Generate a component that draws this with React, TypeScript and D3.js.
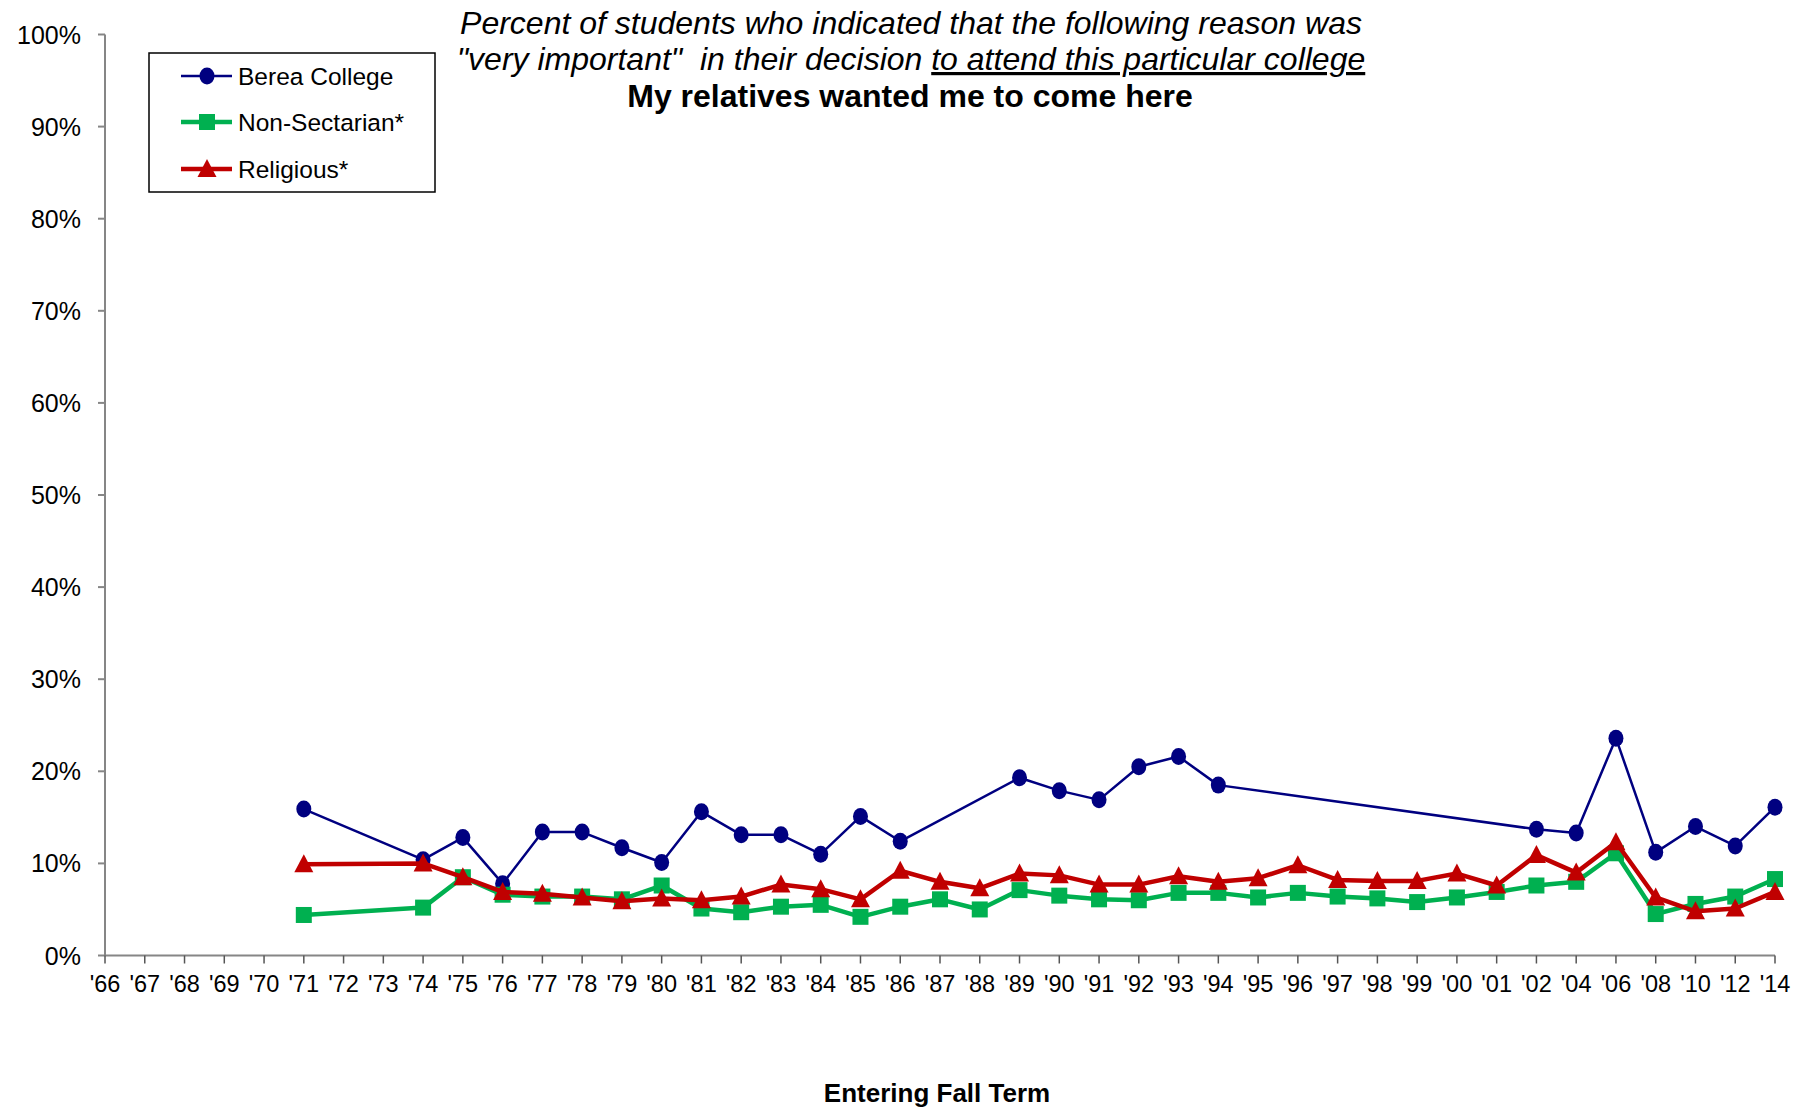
import React from "react";
import * as d3 from "d3";

const years = [
  "'66", "'67", "'68", "'69", "'70", "'71", "'72", "'73", "'74", "'75", "'76", "'77", "'78", "'79",
  "'80", "'81", "'82", "'83", "'84", "'85", "'86", "'87", "'88", "'89", "'90", "'91", "'92", "'93",
  "'94", "'95", "'96", "'97", "'98", "'99", "'00", "'01", "'02", "'04", "'06", "'08", "'10", "'12", "'14",
];

const berea: (number | null)[] = [
  null, null, null, null, null, 15.9, null, null, 10.4, 12.8, 7.8, 13.4, 13.4, 11.7,
  10.1, 15.6, 13.1, 13.1, 11.0, 15.1, 12.4, null, null, 19.3, 17.9, 16.9, 20.5, 21.6,
  18.5, null, null, null, null, null, null, null, 13.7, 13.3, 23.6, 11.2, 14.0, 11.9, 16.1,
];

const nonSectarian: (number | null)[] = [
  null, null, null, null, null, 4.4, null, null, 5.2, 8.5, 6.6, 6.4, 6.4, 6.1,
  7.6, 5.1, 4.7, 5.3, 5.5, 4.2, 5.3, 6.1, 5.0, 7.1, 6.5, 6.1, 6.0, 6.8,
  6.8, 6.3, 6.8, 6.4, 6.2, 5.8, 6.3, 6.9, 7.6, 8.0, 11.1, 4.5, 5.6, 6.4, 8.3,
];

const religious: (number | null)[] = [
  null, null, null, null, null, 9.9, null, null, 10.0, 8.5, 6.9, 6.7, 6.3, 5.9,
  6.2, 6.0, 6.4, 7.7, 7.2, 6.1, 9.2, 8.0, 7.3, 8.9, 8.7, 7.7, 7.7, 8.6,
  8.0, 8.4, 9.8, 8.2, 8.1, 8.1, 8.9, 7.6, 10.9, 9.0, 12.3, 6.3, 4.8, 5.1, 6.9,
];

const yTicks = [0, 10, 20, 30, 40, 50, 60, 70, 80, 90, 100];

const seriesNames = ["Berea College", "Non-Sectarian*", "Religious*"];

const W = 1812;
const H = 1108;
const FONT = "'Liberation Sans', Arial, sans-serif";

type Shape = "circle" | "square" | "triangle";

function Marker({ shape, x, y, color }: { shape: Shape; x: number; y: number; color: string }) {
  if (shape === "circle") return <ellipse cx={x} cy={y} rx={7.5} ry={8.5} fill={color} />;
  if (shape === "square") return <rect x={x - 8} y={y - 8} width={16} height={16} fill={color} />;
  const s = 9;
  return (
    <path
      d={`M${x},${y - s - 1} L${x + s + 0.5},${y + s - 1} L${x - s - 0.5},${y + s - 1} Z`}
      fill={color}
    />
  );
}

export default function App() {
  const x = d3.scalePoint<string>().domain(years).range([105, 1775]).padding(0);
  const y = d3.scaleLinear().domain([0, 100]).range([955.5, 34.5]);

  const series = [
    { name: seriesNames[0], values: berea, color: "#000080", width: 2.5, shape: "circle" as Shape },
    { name: seriesNames[1], values: nonSectarian, color: "#00B050", width: 4.5, shape: "square" as Shape },
    { name: seriesNames[2], values: religious, color: "#C00000", width: 4.5, shape: "triangle" as Shape },
  ];

  const line = d3
    .line<{ year: string; v: number }>()
    .x((d) => x(d.year) as number)
    .y((d) => y(d.v));

  const legendX = 149;
  const legendY = 53;
  const rowYs = [76, 122, 169];

  return (
    <div style={{ position: "absolute", left: 0, top: 0 }}>
      <svg width={W} height={H} style={{ display: "block", background: "#fff" }} fontFamily={FONT}>
        {/* Title */}
        <text x={911} y={34} textAnchor="middle" fontSize={32} fontStyle="italic" fill="#000">
          Percent of students who indicated that the following reason was
        </text>
        <text x={911} y={70} textAnchor="middle" fontSize={32} fontStyle="italic" fill="#000" xmlSpace="preserve">
          <tspan>{'"very important"  in their decision '}</tspan>
          <tspan textDecoration="underline">to attend this particular college</tspan>
        </text>
        <text x={910} y={107} textAnchor="middle" fontSize={32} fontWeight="bold" fill="#000">
          My relatives wanted me to come here
        </text>

        {/* Y axis */}
        <line x1={105} x2={105} y1={y(100)} y2={y(0)} stroke="#868686" strokeWidth={2} />
        {yTicks.map((t) => (
          <g key={t}>
            <line x1={98} x2={105} y1={y(t)} y2={y(t)} stroke="#868686" strokeWidth={2} />
            <text x={81} y={y(t)} dy="0.36em" textAnchor="end" fontSize={25} fill="#000">
              {t}%
            </text>
          </g>
        ))}

        {/* X axis */}
        <line x1={105} x2={1775} y1={y(0)} y2={y(0)} stroke="#868686" strokeWidth={2} />
        {years.map((yr) => (
          <g key={yr}>
            <line x1={x(yr)} x2={x(yr)} y1={y(0)} y2={y(0) + 8} stroke="#555" strokeWidth={1.5} />
            <text x={x(yr)} y={992} textAnchor="middle" fontSize={23.5} fill="#000">
              {yr}
            </text>
          </g>
        ))}
        <text x={937} y={1102} textAnchor="middle" fontSize={26} fontWeight="bold" fill="#000">
          Entering Fall Term
        </text>

        {/* Series */}
        {series.map((s) => {
          const pts = years
            .map((yr, i) => ({ year: yr, v: s.values[i] }))
            .filter((d) => d.v !== null) as { year: string; v: number }[];
          return (
            <g key={s.name}>
              <path d={line(pts) || ""} fill="none" stroke={s.color} strokeWidth={s.width} strokeLinejoin="round" />
              {pts.map((p) => (
                <Marker key={p.year} shape={s.shape} x={x(p.year) as number} y={y(p.v)} color={s.color} />
              ))}
            </g>
          );
        })}

        {/* Legend */}
        <rect x={legendX} y={legendY} width={286} height={139} fill="#fff" stroke="#000" strokeWidth={1.5} />
        {series.map((s, i) => (
          <g key={s.name}>
            <line x1={181} x2={232} y1={rowYs[i]} y2={rowYs[i]} stroke={s.color} strokeWidth={s.width} />
            <Marker shape={s.shape} x={207} y={rowYs[i]} color={s.color} />
            <text x={238} y={rowYs[i]} dy="0.36em" fontSize={24.5} fill="#000">
              {s.name}
            </text>
          </g>
        ))}
      </svg>
    </div>
  );
}
